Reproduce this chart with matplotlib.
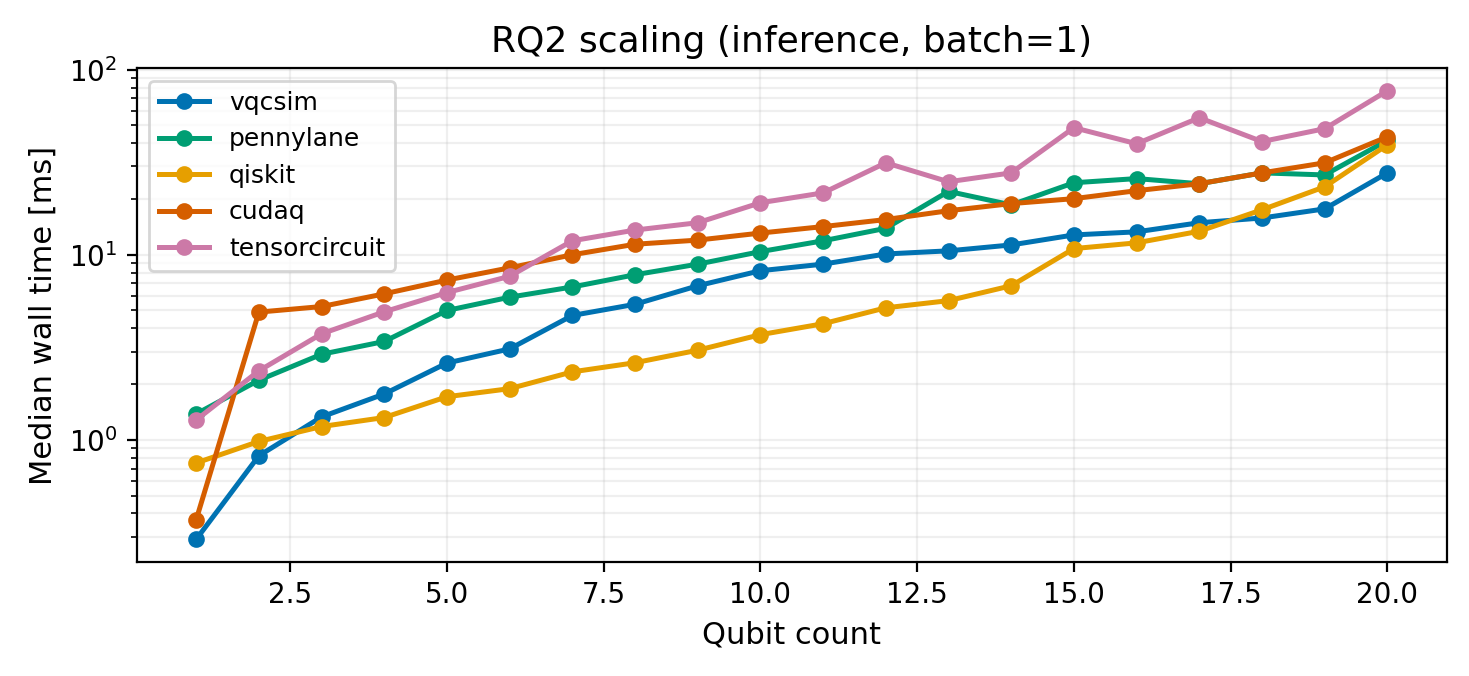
import numpy as np
import matplotlib.pyplot as plt

# Число кубитов
qubits = np.arange(1, 21)

# Медианное время (мс) для каждого симулятора
vqcsim = [0.29, 0.82, 1.33, 1.77, 2.6, 3.1, 4.7, 5.4, 6.8, 8.2,
          8.9, 10.1, 10.5, 11.3, 12.8, 13.3, 14.9, 15.8, 17.7, 27.7]
pennylane = [1.38, 2.1, 2.9, 3.4, 5.0, 5.9, 6.7, 7.8, 8.9, 10.4,
             11.9, 13.9, 22.0, 18.6, 24.5, 25.8, 24.2, 27.7, 27.0, 41.5]
qiskit = [0.75, 0.98, 1.18, 1.32, 1.71, 1.89, 2.33, 2.61, 3.05, 3.7,
          4.24, 5.17, 5.65, 6.8, 10.8, 11.6, 13.4, 17.5, 23.3, 39.3]
cudaq = [0.37, 4.9, 5.25, 6.15, 7.3, 8.5, 10.0, 11.4, 12.0, 13.1,
         14.2, 15.5, 17.3, 18.9, 20.1, 22.2, 24.2, 27.7, 31.4, 43.4]
tensorcircuit = [1.28, 2.36, 3.74, 4.92, 6.25, 7.65, 11.9, 13.6, 14.9, 19.1,
                 21.6, 31.4, 24.8, 27.7, 48.6, 39.8, 55.0, 40.9, 48.0, 77.0]

# Палитра Okabe-Ito
series = [
    ("vqcsim", vqcsim, "#0072B2"),
    ("pennylane", pennylane, "#009E73"),
    ("qiskit", qiskit, "#E69F00"),
    ("cudaq", cudaq, "#D55E00"),
    ("tensorcircuit", tensorcircuit, "#CC79A7"),
]

fig, ax = plt.subplots(figsize=(7.345, 3.38), dpi=200)

for name, vals, color in series:
    ax.plot(qubits, vals, marker="o", markersize=5, linewidth=1.8,
            color=color, label=name)

ax.set_yscale("log")
ax.set_xlabel("Qubit count", fontsize=11)
ax.set_ylabel("Median wall time [ms]", fontsize=11)
ax.set_title("RQ2 scaling (inference, batch=1)", fontsize=13)
ax.grid(True, which="both", alpha=0.2)
ax.legend(fontsize=9, loc="upper left")

fig.subplots_adjust(left=0.093, right=0.985, top=0.899, bottom=0.169)
plt.savefig("out.png", dpi=200)
